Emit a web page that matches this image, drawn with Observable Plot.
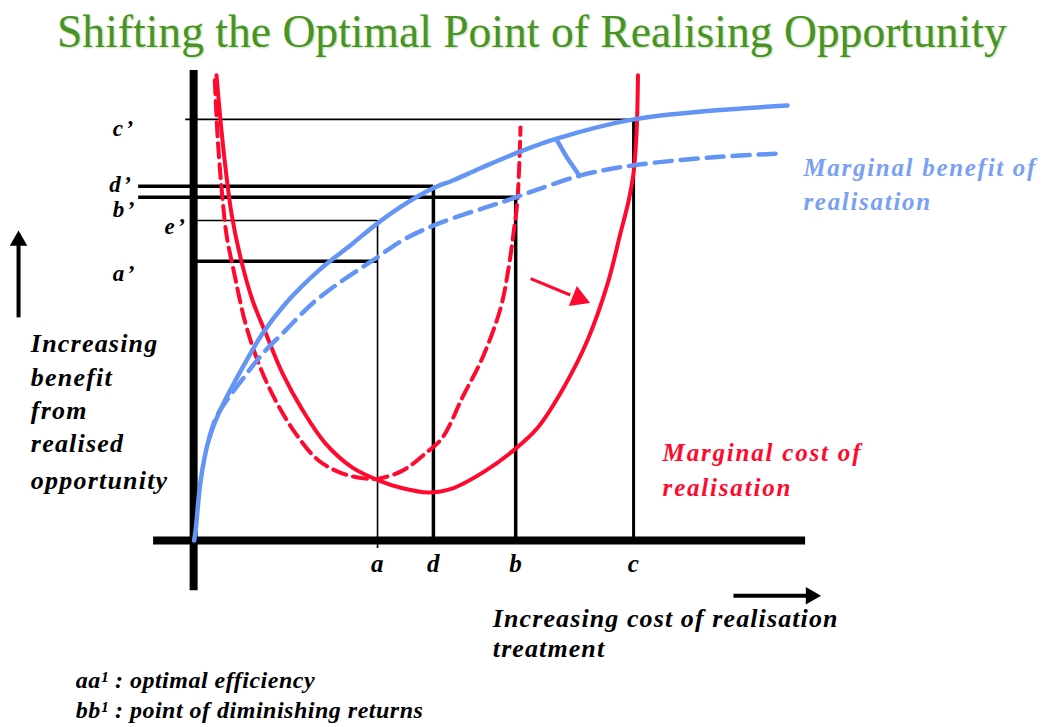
<!DOCTYPE html>
<html>
<head>
<meta charset="utf-8">
<script src="https://cdn.jsdelivr.net/npm/d3@7"></script>
<script src="https://cdn.jsdelivr.net/npm/@observablehq/plot@0.6"></script>
<style>
  html, body { margin: 0; padding: 0; background: #fff; }
  #title { height: 65px; line-height: 62px; padding-left: 57px; font-family: "Liberation Serif", serif; font-size: 47px; color: #479424; white-space: nowrap; overflow: visible; }
  #title span { display: inline-block; transform: scaleX(0.97); transform-origin: left center; text-shadow: 1px 1px 2px rgba(68,144,33,0.35); }
  svg { display: block; }
</style>
</head>
<body>
<div id="title"><span>Shifting the Optimal Point of Realising Opportunity</span></div>
<div id="chart"></div>
<script>
// ---- Data (conceptual units: cost on x, benefit on y) ----
const costTickLabels = ["a", "d", "b", "c"];
const costTickValues = [41.8, 54.5, 73.2, 100];
const benefitLabels = ["c’", "d’", "b’", "e’", "a’"];
const benefitValues = [100, 84.1, 81.5, 76.0, 66.3];

// Marginal benefit of realisation (solid = shifted, dashed = original)
const benefitSolid = [[0.1,0],[0.45,2.4],[1.6,14.3],[3.4,23.8],[5.7,30.2],[9.5,38.0],[15.7,49.2],[20.9,56.3],[28.4,64.1],[36.1,70.5],[42.0,75.5],[48.2,80.0],[54.3,83.6],[58.9,85.5],[65.2,88.4],[74.3,92.4],[82.7,95.5],[100,100],[118.2,102.1],[135,103.3]];
const benefitDashed = [[3.6,24.5],[5.0,29.0],[8.0,34.0],[11.4,38.7],[15.7,44.4],[20.9,49.9],[27.0,56.3],[33.9,61.8],[40.7,66.5],[47.5,71.3],[55.7,75.3],[66.4,79.1],[70.5,80.5],[74.3,81.9],[88.0,86.7],[100,89.1],[118.2,91.0],[133.4,91.9]];
const benefitShift = [[82.5,95.2],[85,90.7],[87.7,86.6]];

// Marginal cost of realisation (solid = shifted, dashed = original)
const costSolid = [[5.2,110.5],[6.1,99.8],[7.3,88.0],[8.6,77.7],[10.7,67.0],[13.4,57.0],[16.4,49.2],[20.2,39.7],[24.8,30.9],[30.0,23.0],[36.1,17.3],[42.0,14.3],[47.5,12.4],[53.4,11.4],[58.9,12.4],[66.4,16.6],[72.7,21.4],[78.2,26.8],[84.1,36.3],[89.5,47.5],[94.1,61.0],[97.0,72.9],[98.9,80.8],[100,87.4],[100.7,97.4],[100.9,104.5],[101.0,110.5]];
const costDashed = [[4.8,109.3],[5.5,95.0],[6.4,83.1],[7.5,72.4],[9.1,64.1],[11.8,51.5],[14.8,42.0],[18.6,33.3],[23.2,25.4],[28.4,19.0],[33.9,15.9],[39.1,14.7],[42.0,14.7],[47.5,16.6],[52.7,20.7],[56.6,24.5],[61.1,34.0],[65.7,43.5],[69.8,55.3],[71.6,64.8],[72.7,72.9],[73.6,80.8],[74.3,98.1]];
const costShiftArrow = [{x1: 76.6, y1: 62.2, x2: 85.6, y2: 58.3}];

// Guide lines to axes
const hGuides = [
  {label: "c’", y: benefitValues[0], x1: -1.8,  x2: costTickValues[3], w: 1.6},
  {label: "d’", y: benefitValues[1], x1: -12.5, x2: costTickValues[1], w: 3.5},
  {label: "b’", y: benefitValues[2], x1: -12.5, x2: costTickValues[2], w: 3.5},
  {label: "e’", y: benefitValues[3], x1: 0,     x2: costTickValues[0], w: 1.6},
  {label: "a’", y: benefitValues[4], x1: 0,     x2: costTickValues[0], w: 3.5}
];
const vGuides = [
  {label: "a", x: costTickValues[0], y1: -1.9, y2: benefitValues[3], w: 1.6},
  {label: "d", x: costTickValues[1], y1: 0, y2: benefitValues[1], w: 3.5},
  {label: "b", x: costTickValues[2], y1: 0, y2: benefitValues[2], w: 3.5},
  {label: "c", x: costTickValues[3], y1: 0, y2: benefitValues[0], w: 3}
];
const benefitLabelPos = [[-18.4,97.9],[-19.2,84.6],[-18.4,78.6],[-6.6,74.6],[-18.4,63.4]];

const yAxisText = ["Increasing", "benefit", "from", "realised", "opportunity"];
const yAxisTextPos = [46.8, 38.7, 30.9, 23.0, 14.3];
const xAxisText = ["Increasing cost of realisation", "treatment"];
const xAxisTextPos = [-18.5, -25.7];
const benefitName = ["Marginal benefit of", "realisation"];
const benefitNamePos = [88.4, 80.3];
const costName = ["Marginal cost of", "realisation"];
const costNamePos = [20.7, 12.4];
const notes = ["aa¹ : optimal efficiency", "bb¹ : point of diminishing returns"];
const notesPos = [-33.3, -40.4];

const RED = "#ff0a2e";
const BLUE = "#6495f5";
const BLUE_TEXT = "#7aa0f2";
const FONT = "Liberation Serif, Times New Roman, serif";

const txt = (lines, xs, ys, opts) => Plot.text(lines.map((t, i) => ({t, x: Array.isArray(xs) ? xs[i] : xs, y: ys[i]})), {
  x: "x", y: "y", text: "t", textAnchor: "start", fontFamily: FONT, fontWeight: "bold", fontStyle: "italic", ...opts
});

const chart = Plot.plot({
  width: 1044,
  height: 662,
  marginTop: 0, marginBottom: 0, marginLeft: 0, marginRight: 0,
  x: {domain: [-43.9, 193.4], axis: null},
  y: {domain: [-44.4, 112.8], axis: null},
  marks: [
    // guide lines
    Plot.ruleY(hGuides, {y: "y", x1: "x1", x2: "x2", stroke: "black", strokeWidth: "w"}),
    Plot.ruleX(vGuides, {x: "x", y1: "y1", y2: "y2", stroke: "black", strokeWidth: "w"}),
    // axes
    Plot.ruleX([0], {y1: -11.9, y2: 111.6, stroke: "black", strokeWidth: 8}),
    Plot.ruleY([0], {x1: -9.1, x2: 139.1, stroke: "black", strokeWidth: 8}),
    // cost curves
    Plot.line(costDashed, {x: d => d[0], y: d => d[1], stroke: RED, strokeWidth: 4, strokeDasharray: "14,7", curve: "catmull-rom"}),
    Plot.line(costSolid, {x: d => d[0], y: d => d[1], stroke: RED, strokeWidth: 4, curve: "catmull-rom"}),
    Plot.link(costShiftArrow, {x1: "x1", y1: "y1", x2: "x2", y2: "y2", stroke: RED, strokeWidth: 3}),
    Plot.dot([{x: 87.5, y: 57.5}], {x: "x", y: "y", symbol: "triangle", r: 8, fill: RED, rotate: 112}),
    // benefit curves
    Plot.line(benefitDashed, {x: d => d[0], y: d => d[1], stroke: BLUE, strokeWidth: 4.5, strokeDasharray: "17,9", curve: "catmull-rom"}),
    Plot.line(benefitSolid, {x: d => d[0], y: d => d[1], stroke: BLUE, strokeWidth: 4.5, curve: "catmull-rom"}),
    Plot.line(benefitShift, {x: d => d[0], y: d => d[1], stroke: BLUE, strokeWidth: 4.5}),
    // axis direction arrows
    Plot.link([{x1: -39.8, y1: 53.0, x2: -39.8, y2: 70.5}], {x1: "x1", y1: "y1", x2: "x2", y2: "y2", stroke: "black", strokeWidth: 4}),
    Plot.dot([{x: -39.8, y: 71.2}], {x: "x", y: "y", symbol: "triangle", r: 6.5, fill: "black"}),
    Plot.link([{x1: 122.7, y1: -13.1, x2: 139.5, y2: -13.1}], {x1: "x1", y1: "y1", x2: "x2", y2: "y2", stroke: "black", strokeWidth: 4}),
    Plot.dot([{x: 140.3, y: -13.1}], {x: "x", y: "y", symbol: "triangle", r: 6.5, fill: "black", rotate: 90}),
    // tick labels
    Plot.text(costTickLabels.map((t, i) => ({t, x: costTickValues[i]})), {x: "x", y: -5.5, text: "t", fontFamily: FONT, fontWeight: "bold", fontStyle: "italic", fontSize: 25, fill: "black"}),
    Plot.text(benefitLabels.map((t, i) => ({t, x: benefitLabelPos[i][0], y: benefitLabelPos[i][1]})), {x: "x", y: "y", text: "t", textAnchor: "start", fontFamily: FONT, fontWeight: "bold", fontStyle: "italic", fontSize: 23, fill: "black"}),
    // text blocks
    txt(yAxisText, -37, yAxisTextPos, {fontSize: 26, fill: "black"}),
    txt(xAxisText, 68, xAxisTextPos, {fontSize: 26, fill: "black"}),
    txt(benefitName, 138.6, benefitNamePos, {fontSize: 25, fill: BLUE_TEXT}),
    txt(costName, 106.6, costNamePos, {fontSize: 25, fill: RED}),
    txt(notes, -26.8, notesPos, {fontSize: 24, fill: "black"})
  ]
});
// letter spacing for the text marks, in mark order
const spacing = ["0.5", "2.5", "1.2", "1.1", "1.7", "1.8", "0.5"];
chart.querySelectorAll('g[aria-label="text"]').forEach((g, i) => {
  if (spacing[i]) g.setAttribute("letter-spacing", spacing[i]);
});
document.getElementById("chart").appendChild(chart);
</script>
</body>
</html>
